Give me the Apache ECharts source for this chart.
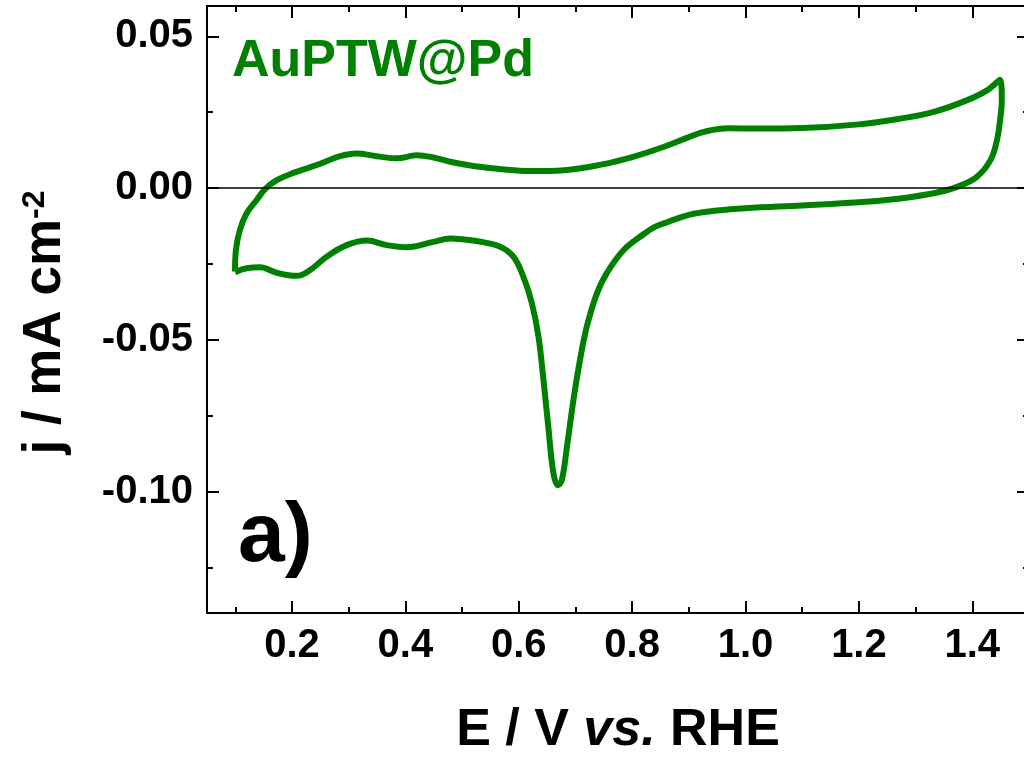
<!DOCTYPE html>
<html>
<head>
<meta charset="utf-8">
<script src="https://cdn.jsdelivr.net/npm/echarts@6/dist/echarts.min.js"></script>
<style>
  html, body { margin: 0; background: #fff; }
  #chart { width: 1024px; height: 757px; }
</style>
</head>
<body>
<div id="chart"></div>
<script>
// anodic sweep (upper branch), E / V vs. RHE and j / mA cm-2
var anodicE = [0.0994, 0.101, 0.108, 0.120, 0.1377, 0.152, 0.173, 0.2023, 0.2436, 0.2847, 0.314, 0.349, 0.385, 0.42, 0.449, 0.479,
  0.52, 0.57, 0.62, 0.68, 0.75, 0.80, 0.85, 0.90, 0.93, 0.97, 1.02, 1.10, 1.20, 1.273, 1.332, 1.39, 1.426, 1.449];
var anodicJ = [-0.0275, -0.0204, -0.0138, -0.0083, -0.0039, -0.0004, 0.0026, 0.005, 0.0076, 0.0105, 0.0114, 0.0105, 0.0098, 0.0108, 0.0101, 0.0087,
  0.0073, 0.0062, 0.0056, 0.0059, 0.0079, 0.0102, 0.0132, 0.0168, 0.0187, 0.0197, 0.0196, 0.0198, 0.021, 0.0229, 0.0251, 0.0289, 0.0322, 0.0357];

// cathodic sweep (lower branch), back from the turning point
var cathodicE = [1.452, 1.449, 1.4435, 1.432, 1.408, 1.373, 1.332, 1.273, 1.2, 1.1, 1.0, 0.95, 0.9, 0.861, 0.84, 0.82, 0.785, 0.755, 0.738,
  0.72, 0.708, 0.6965, 0.685, 0.676, 0.669, 0.661, 0.652, 0.6435, 0.6347, 0.623, 0.608, 0.5905, 0.567, 0.53, 0.479, 0.449, 0.4024,
  0.367, 0.332, 0.2965, 0.261, 0.232, 0.208, 0.173, 0.1435, 0.12, 0.0994];
var cathodicJ = [0.0289, 0.0224, 0.0158, 0.0092, 0.0037, 0.0004, -0.0017, -0.0034, -0.0047, -0.0057, -0.0066, -0.0074, -0.0088, -0.0113, -0.0128, -0.0152, -0.0204, -0.0281, -0.0346,
  -0.0456, -0.0566, -0.0697, -0.0851, -0.0961, -0.0979, -0.0938, -0.0785, -0.0632, -0.0489, -0.0379, -0.0292, -0.0226, -0.0193, -0.0176, -0.0166, -0.0177, -0.0195,
  -0.0188, -0.0173, -0.0188, -0.0226, -0.027, -0.0289, -0.0279, -0.0261, -0.0264, -0.0277];

var xMajor = [0.2, 0.4, 0.6, 0.8, 1.0, 1.2, 1.4];
var xMinor = [0.1, 0.3, 0.5, 0.7, 0.9, 1.1, 1.3];
var yMajor = [-0.10, -0.05, 0, 0.05];
var yMinor = [-0.125, -0.075, -0.025, 0.025];

var sampleName = 'AuPTW@Pd';
var panelName = 'a)';

var FONT = "'Liberation Sans', Arial, sans-serif";
var GREEN = '#008000';

var cv = [];
anodicE.forEach(function (e, i) { cv.push([e, anodicJ[i]]); });
cathodicE.forEach(function (e, i) { cv.push([e, cathodicJ[i]]); });

// one axis per tick row: major (with or without labels) and minor
function xAx(pos, ticks, len, line, labels) {
  return {
    type: 'value', position: pos, min: 0.05, max: 1.5,
    axisLine: { show: line, onZero: false, lineStyle: { color: '#000', width: 2 } },
    axisTick: { show: true, inside: true, length: len, customValues: ticks, lineStyle: { color: '#000', width: 2 } },
    axisLabel: labels ? {
      show: true, customValues: ticks, margin: 13, color: '#000',
      fontSize: 40, fontWeight: 'bold', fontFamily: FONT,
      formatter: function (v) { return v.toFixed(1); }
    } : { show: false },
    splitLine: { show: false }
  };
}
function yAx(pos, ticks, len, line, labels) {
  return {
    type: 'value', position: pos, min: -0.14, max: 0.06,
    axisLine: { show: line, onZero: false, lineStyle: { color: '#000', width: 2 } },
    axisTick: { show: true, inside: true, length: len, customValues: ticks, lineStyle: { color: '#000', width: 2 } },
    axisLabel: labels ? {
      show: true, customValues: ticks, margin: 14, color: '#000',
      fontSize: 40, fontWeight: 'bold', fontFamily: FONT,
      formatter: function (v) { return v.toFixed(2); }
    } : { show: false },
    splitLine: { show: false }
  };
}

var xAxes = [
  xAx('bottom', xMajor, 12, true, true),
  xAx('bottom', xMinor, 6, false, false),
  xAx('top', xMajor, 12, true, false),
  xAx('top', xMinor, 6, false, false)
];
xAxes[0].name = 'E / V {i|vs.} RHE';
xAxes[0].nameLocation = 'middle';
xAxes[0].nameGap = 92;
xAxes[0].nameTextStyle = {
  fontSize: 52, fontWeight: 'bold', fontFamily: FONT, color: '#000',
  rich: { i: { fontSize: 52, fontWeight: 'bold', fontStyle: 'italic', fontFamily: FONT, color: '#000' } }
};

var yAxes = [
  yAx('left', yMajor, 12, true, true),
  yAx('left', yMinor, 6, false, false),
  yAx('right', yMajor, 12, true, false),
  yAx('right', yMinor, 6, false, false)
];
yAxes[0].name = '{n|j / mA cm}{s|-2}';
yAxes[0].nameLocation = 'middle';
yAxes[0].nameGap = 135;
yAxes[0].nameTextStyle = {
  fontSize: 53, fontWeight: 'bold', fontFamily: FONT, color: '#000',
  padding: [0, 26, 0, 0],
  rich: {
    n: { fontSize: 53, fontWeight: 'bold', fontFamily: FONT, color: '#000' },
    s: { fontSize: 32, fontWeight: 'bold', fontFamily: FONT, color: '#000', verticalAlign: 'top' }
  }
};

var chart = echarts.init(document.getElementById('chart'));
chart.setOption({
  animation: false,
  backgroundColor: '#fff',
  grid: { left: 207, top: 6, width: 822, height: 607, containLabel: false, outerBoundsMode: 'none' },
  xAxis: xAxes,
  yAxis: yAxes,
  graphic: [
    { type: 'text', left: 232, top: 36, style: { text: sampleName, fill: GREEN, font: 'bold 52px ' + FONT } },
    { type: 'text', left: 238, top: 496, style: { text: panelName, fill: '#000', font: 'bold 84px ' + FONT } }
  ],
  series: [{
    type: 'line',
    data: cv,
    xAxisIndex: 0,
    yAxisIndex: 0,
    showSymbol: false,
    smooth: 0.4,
    lineStyle: { color: GREEN, width: 6 },
    markLine: {
      silent: true,
      symbol: 'none',
      label: { show: false },
      lineStyle: { color: '#000', width: 1.5, type: 'solid' },
      data: [{ yAxis: 0 }]
    },
    z: 3
  }]
});
</script>
</body>
</html>
